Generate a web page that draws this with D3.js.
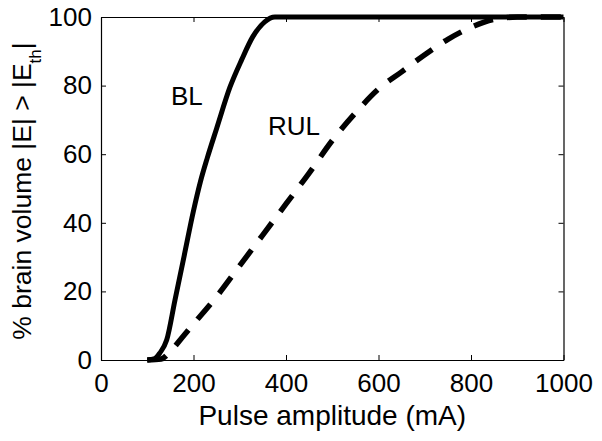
<!DOCTYPE html>
<html>
<head>
<meta charset="utf-8">
<script src="https://cdn.jsdelivr.net/npm/d3@7"></script>
<style>
  html, body { margin: 0; padding: 0; background: #fff; }
  svg { display: block; }
  text { font-family: "Liberation Sans", Arial, Helvetica, sans-serif; fill: #000; }
</style>
</head>
<body>
<svg id="chart" width="602" height="441"></svg>
<script>
// Data
const blAmp = [100, 115, 127, 142, 160, 180, 200, 215, 230, 250, 279, 304, 328, 354, 376, 400, 500, 600, 700, 800, 900, 1000];
const blPct = [0, 0.3, 2, 5.8, 17.5, 30.5, 43.5, 52, 59, 67.5, 79.6, 87.5, 94.2, 98.6, 100, 100, 100, 100, 100, 100, 100, 100];
const rulAmp = [100, 130, 150, 175, 200, 250, 300, 350, 400, 450, 500, 550, 600, 650, 700, 750, 800, 850, 900, 1000];
const rulPct = [0, 0.3, 2.5, 6.5, 10.5, 18.5, 27.5, 36.5, 45.5, 54.5, 64, 72, 79, 84, 89, 93.5, 97, 99.3, 100, 100];
const xTicks = [0, 200, 400, 600, 800, 1000];
const yTicks = [0, 20, 40, 60, 80, 100];
const seriesLabels = ["BL", "RUL"];

const svg = d3.select("#chart");
const x = d3.scaleLinear().domain([0, 1000]).range([101, 563.5]);
const y = d3.scaleLinear().domain([0, 100]).range([360, 17]);
const fmt = d3.format("d");

// axes (ticks inward, box on all sides)
const axB = svg.append("g").attr("transform", `translate(0,${y(0)})`)
  .call(d3.axisBottom(x).tickValues(xTicks).tickFormat(fmt).tickSizeInner(-5).tickSizeOuter(0).tickPadding(14));
const axT = svg.append("g").attr("transform", `translate(0,${y(100)})`)
  .call(d3.axisTop(x).tickValues(xTicks).tickSizeInner(-5).tickSizeOuter(0).tickFormat(""));
const axL = svg.append("g").attr("transform", `translate(${x(0)},0)`)
  .call(d3.axisLeft(y).tickValues(yTicks).tickFormat(fmt).tickSizeInner(-5).tickSizeOuter(0).tickPadding(9));
const axR = svg.append("g").attr("transform", `translate(${x(1000)},0)`)
  .call(d3.axisRight(y).tickValues(yTicks).tickSizeInner(-5).tickSizeOuter(0).tickFormat(""));

[axB, axT, axL, axR].forEach(g => {
  g.selectAll("path.domain").attr("stroke", "#000").attr("stroke-width", 1.2);
  g.selectAll(".tick line").attr("stroke", "#000").attr("stroke-width", 1);
  g.selectAll(".tick text")
    .style("font-family", '"Liberation Sans", Arial, Helvetica, sans-serif')
    .style("font-size", "26px").attr("fill", "#000");
});

// lines
const line = d3.line().x(d => x(d[0])).y(d => y(d[1])).curve(d3.curveMonotoneX);
const bl = blAmp.map((a, i) => [a, blPct[i]]);
const rul = rulAmp.map((a, i) => [a, rulPct[i]]);

svg.append("path").datum(rul).attr("d", line)
  .attr("fill", "none").attr("stroke", "#000").attr("stroke-width", 5.5)
  .attr("stroke-dasharray", "20,14").attr("stroke-linecap", "butt");
svg.append("path").datum(bl).attr("d", line)
  .attr("fill", "none").attr("stroke", "#000").attr("stroke-width", 5)
  .attr("stroke-linejoin", "round");

// series labels
svg.append("text").attr("x", 171).attr("y", 105).style("font-size", "26px").text(seriesLabels[0]);
svg.append("text").attr("x", 268).attr("y", 135).style("font-size", "26px").text(seriesLabels[1]);

// axis titles
svg.append("text").attr("x", x(500)).attr("y", 425).attr("text-anchor", "middle")
  .style("font-size", "28px").text("Pulse amplitude (mA)");

const yl = svg.append("text").attr("transform", "translate(31,191) rotate(-90)")
  .attr("text-anchor", "middle").style("font-size", "26.5px");
yl.append("tspan").text("% brain volume |E| > |E");
yl.append("tspan").attr("dy", 10).style("font-size", "17px").text("th");
yl.append("tspan").attr("dy", -10).text("|");
</script>
</body>
</html>
